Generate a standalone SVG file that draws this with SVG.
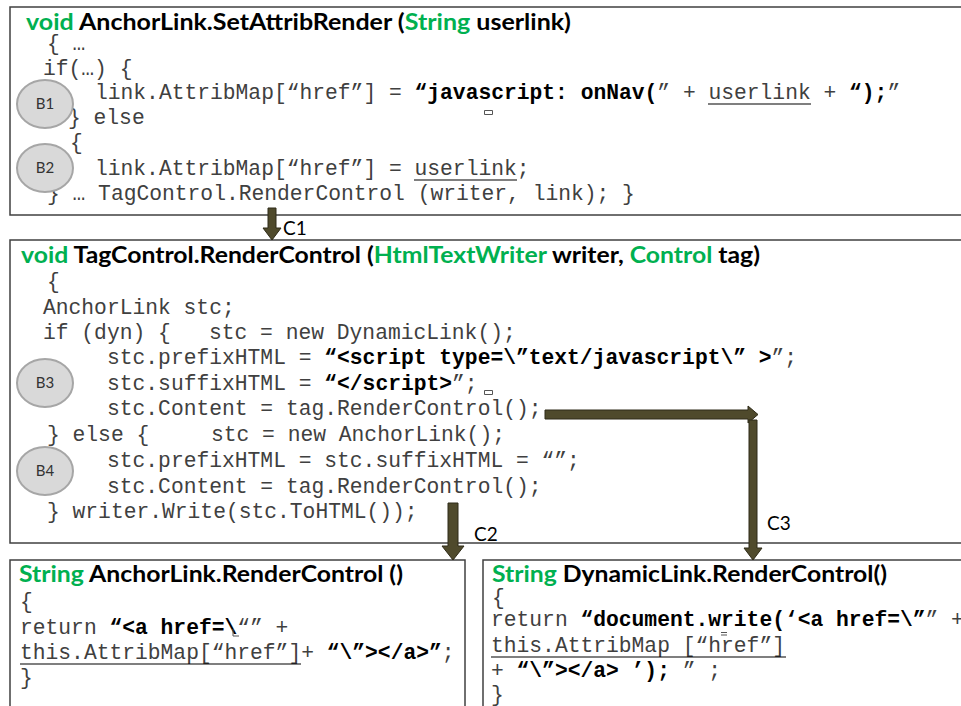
<svg xmlns="http://www.w3.org/2000/svg" width="961" height="706" viewBox="0 0 961 706">
  <style>
    .frame { fill: #ffffff; stroke: #404040; stroke-width: 1.5; }
    .title { font-family: Lato, "Liberation Sans", sans-serif; font-weight: bold; font-size: 22px; fill: #000000; }
    .kw { fill: #00b050; }
    .code { font-family: "Liberation Mono", "Courier New", monospace; font-size: 21.3px; fill: #404040; }
    .b { font-weight: bold; fill: #000000; }
    .ul { stroke: #000000; stroke-width: 1.2; }
    .blk { fill: #d9d9d9; stroke: #a6a6a6; stroke-width: 2; }
    .blabel { font-family: Lato, "Liberation Sans", sans-serif; font-size: 15px; fill: #333333; text-anchor: middle; }
    .arrow { fill: #4f4a2c; stroke: #2e2a18; stroke-width: 1; }
    .clabel { font-family: Lato, "Liberation Sans", sans-serif; font-size: 19px; fill: #000000; }
    .tick { fill: none; stroke: #555555; stroke-width: 1; }
  </style>

  <!-- AnchorLink.SetAttribRender -->
  <g id="set-attrib-render">
    <rect class="frame" x="10" y="7" width="1000" height="208"/>
    <text class="title" x="26" y="30" textLength="545" lengthAdjust="spacingAndGlyphs"><tspan class="kw">void</tspan> AnchorLink.SetAttribRender (<tspan class="kw">String</tspan> userlink)</text>
    <text class="code" x="47" y="50">{ …</text>
    <text class="code" x="43" y="75">if(…) {</text>
    <text class="code" x="95" y="99" xml:space="preserve">link.AttribMap[“href”] = <tspan class="b">“javascript: onNav(</tspan>” + userlink + <tspan class="b">“);</tspan>”</text>
    <line class="ul" x1="708" y1="104" x2="811" y2="104"/>
    <path class="tick" d="M484.5 110.5h8v4h-8z"/>
    <text class="code" x="68" y="124">} else</text>
    <text class="code" x="70" y="149">{</text>
    <text class="code" x="95" y="175">link.AttribMap[“href”] = userlink;</text>
    <line class="ul" x1="414" y1="180" x2="517" y2="180"/>
    <text class="code" x="47" y="200">} … TagControl.RenderControl (writer, link); }</text>
    <ellipse class="blk" cx="45" cy="104" rx="28" ry="24"/>
    <text class="blabel" x="45" y="109">B1</text>
    <ellipse class="blk" cx="45" cy="168" rx="28" ry="24"/>
    <text class="blabel" x="45" y="173">B2</text>
  </g>

  <!-- TagControl.RenderControl -->
  <g id="tag-render-control">
    <rect class="frame" x="10" y="240" width="1000" height="303"/>
    <text class="title" x="21" y="263" textLength="739" lengthAdjust="spacingAndGlyphs"><tspan class="kw">void</tspan> TagControl.RenderControl (<tspan class="kw">HtmlTextWriter</tspan> writer, <tspan class="kw">Control</tspan> tag)</text>
    <text class="code" x="47" y="288">{</text>
    <text class="code" x="43" y="314">AnchorLink stc;</text>
    <text class="code" x="43" y="339">if (dyn) {</text>
    <text class="code" x="209" y="339">stc = new DynamicLink();</text>
    <text class="code" x="107" y="364" xml:space="preserve">stc.prefixHTML = <tspan class="b">“&lt;script type=\”text/javascript\” &gt;</tspan>”;</text>
    <text class="code" x="107" y="390" xml:space="preserve">stc.suffixHTML = <tspan class="b">“&lt;/script&gt;</tspan>”;</text>
    <path class="tick" d="M484.5 390.5h8v4h-8z"/>
    <text class="code" x="107" y="415">stc.Content = tag.RenderControl();</text>
    <text class="code" x="47" y="441">} else {</text>
    <text class="code" x="211" y="441">stc = new AnchorLink();</text>
    <text class="code" x="107" y="467">stc.prefixHTML = stc.suffixHTML = “”;</text>
    <text class="code" x="107" y="493">stc.Content = tag.RenderControl();</text>
    <text class="code" x="47" y="518">} writer.Write(stc.ToHTML());</text>
    <ellipse class="blk" cx="45" cy="383" rx="28" ry="24"/>
    <text class="blabel" x="45" y="388">B3</text>
    <ellipse class="blk" cx="45" cy="471" rx="28" ry="24"/>
    <text class="blabel" x="45" y="476">B4</text>
  </g>

  <!-- AnchorLink.RenderControl -->
  <g id="anchor-render-control">
    <rect class="frame" x="10" y="560" width="455" height="200"/>
    <text class="title" x="19" y="582" textLength="384" lengthAdjust="spacingAndGlyphs"><tspan class="kw">String</tspan> AnchorLink.RenderControl ()</text>
    <text class="code" x="20" y="608">{</text>
    <text class="code" x="20" y="634" xml:space="preserve">return <tspan class="b">“&lt;a href=\</tspan>“” +</text>
    <path class="tick" d="M233 629v7h6"/>
    <text class="code" x="20" y="659" xml:space="preserve">this.AttribMap[“href”]+ <tspan class="b">“\”&gt;&lt;/a&gt;”</tspan>;</text>
    <line class="ul" x1="20" y1="664" x2="301" y2="664"/>
    <text class="code" x="20" y="684">}</text>
  </g>

  <!-- DynamicLink.RenderControl -->
  <g id="dynamic-render-control">
    <rect class="frame" x="483" y="560" width="600" height="200"/>
    <text class="title" x="492" y="582" textLength="395" lengthAdjust="spacingAndGlyphs"><tspan class="kw">String</tspan> DynamicLink.RenderControl()</text>
    <text class="code" x="492" y="604">{</text>
    <text class="code" x="491" y="626" xml:space="preserve">return <tspan class="b">“document.write(‘&lt;a href=\”</tspan>” +</text>
    <text class="code" x="491" y="652">this.AttribMap [“href”]</text>
    <path class="tick" d="M721 632.5h6M721 635h6"/>
    <line class="ul" x1="491" y1="657" x2="786" y2="657"/>
    <text class="code" x="491" y="677" xml:space="preserve">+ <tspan class="b">“\”&gt;&lt;/a&gt; ’);</tspan> ” ;</text>
    <text class="code" x="491" y="701">}</text>
  </g>

  <!-- calls between the methods -->
  <g id="connectors">
    <path class="arrow" d="M268 208h8v20h5l-9 12l-9-12h5z"/>
    <text class="clabel" x="283" y="235">C1</text>
    <path class="arrow" d="M448 503h10v43h6l-11 14l-11-14h6z"/>
    <text class="clabel" x="474" y="541">C2</text>
    <path class="arrow" d="M545 410h203v-4l10 8.5l-10 8.5v-4h-203z"/>
    <path class="arrow" d="M749 420h8v128h5l-9 12l-9-12h5z"/>
    <text class="clabel" x="767" y="530">C3</text>
  </g>
</svg>
